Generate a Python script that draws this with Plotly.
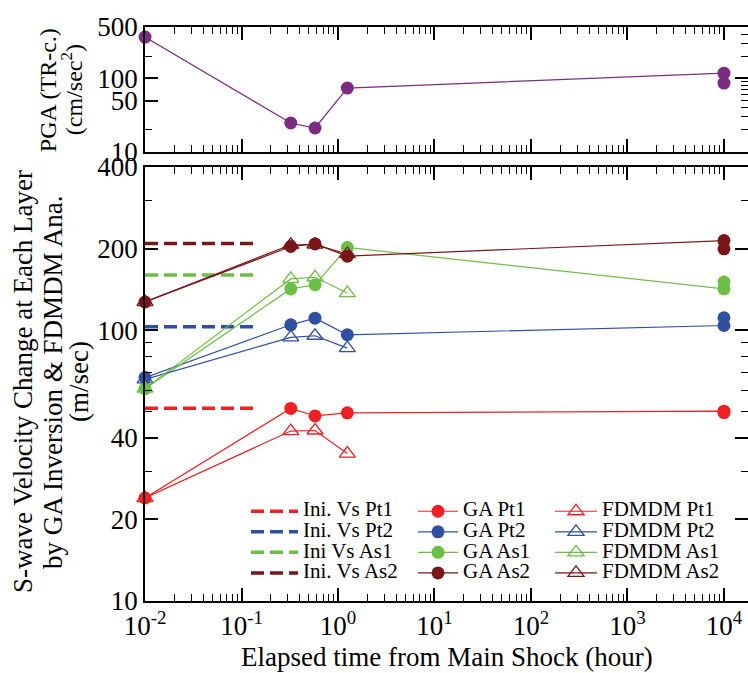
import plotly.graph_objects as go

FONT = "Liberation Serif"
RED, BLUE, GREEN, DRED, PURPLE = "#EE2024", "#2F4FA2", "#6DBE45", "#7A1518", "#7B2C80"

# ---- data ----
t_pga = [0.01, 0.324, 0.578, 1.25, 1.0e4, 1.0e4]
pga = [365, 24.8, 21.2, 74, 118, 86.6]

t_ini = [0.01, 0.152]
ini_labels = ["Ini. Vs Pt1", "Ini. Vs Pt2", "Ini Vs As1", "Ini. Vs As2"]
ini_vs = [51.5, 102.9, 159.8, 208.7]

t_ga = [0.01, 0.324, 0.578, 1.25, 1.0e4, 1.0e4]
ga_labels = ["GA Pt1", "GA Pt2", "GA As1", "GA As2"]
ga_pt1 = [24.0, 51.4, 48.2, 49.5, 50.2, 49.6]
ga_pt2 = [66.8, 104.6, 110.7, 96.1, 104.0, 111.0]
ga_as1 = [60.8, 141.9, 147.0, 201.8, 142.0, 150.4]
ga_as2 = [127.0, 203.5, 208.0, 187.5, 214.0, 199.5]

t_fd = [0.01, 0.324, 0.578, 1.25]
fd_labels = ["FDMDM Pt1", "FDMDM Pt2", "FDMDM As1", "FDMDM As2"]
fd_pt1 = [24.0, 42.4, 42.6, 35.0]
fd_pt2 = [65.8, 94.0, 95.3, 85.8]
fd_as1 = [60.8, 154.5, 156.7, 137.0]
fd_as2 = [127.0, 206.6, 207.0, 191.0]

x_major = [1e-2, 1e-1, 1e0, 1e1, 1e2, 1e3, 1e4]
x_labels = ["10<sup>-2</sup>", "10<sup>-1</sup>", "10<sup>0</sup>", "10<sup>1</sup>",
            "10<sup>2</sup>", "10<sup>3</sup>", "10<sup>4</sup>"]
pga_ticks = [10, 50, 100, 500]
vs_ticks = [10, 20, 40, 100, 200, 400]
vs_minor = [30, 50, 60, 70, 80, 90, 300]

colors = [RED, BLUE, GREEN, DRED]
ga_vals = [ga_pt1, ga_pt2, ga_as1, ga_as2]
fd_vals = [fd_pt1, fd_pt2, fd_as1, fd_as2]

def lbl(s):
    return '<span style="font-size:21px">' + s + '</span>'

fig = go.Figure()

# top panel
fig.add_trace(go.Scatter(x=t_pga, y=pga, mode="lines+markers", xaxis="x", yaxis="y",
                         line=dict(color=PURPLE, width=1.2), marker=dict(size=13, color=PURPLE),
                         showlegend=False, cliponaxis=False))
fig.add_trace(go.Scatter(x=[None], y=[None], xaxis="x", yaxis="y3", showlegend=False, hoverinfo="skip"))
fig.add_trace(go.Scatter(x=[None], y=[None], xaxis="x2", yaxis="y4", showlegend=False, hoverinfo="skip"))

# bottom panel
for name, v, c in zip(ini_labels, ini_vs, colors):
    fig.add_trace(go.Scatter(x=t_ini, y=[v, v], mode="lines", xaxis="x2", yaxis="y2",
                             line=dict(color=c, width=3.5, dash="13px,6px"),
                             name=lbl(name), legend="legend", cliponaxis=False))
for name, v, c in zip(ga_labels, ga_vals, colors):
    fig.add_trace(go.Scatter(x=t_ga, y=v, mode="lines+markers", xaxis="x2", yaxis="y2",
                             line=dict(color=c, width=1.2), marker=dict(size=13, color=c),
                             name=lbl(name), legend="legend2", cliponaxis=False))
for name, v, c in zip(fd_labels, fd_vals, colors):
    fig.add_trace(go.Scatter(x=t_fd, y=v, mode="lines+markers", xaxis="x2", yaxis="y2",
                             line=dict(color=c, width=1.2),
                             marker=dict(size=14, color=c, symbol="triangle-up-open", line=dict(width=1.3, color=c)),
                             name=lbl(name), legend="legend3", cliponaxis=False))

x_minor = [m * 10 ** e for e in range(-2, 5) for m in range(2, 10)]
tickfont = dict(family=FONT, size=27, color="black")
common_x = dict(type="log", range=[-2, 4.249], domain=[0, 1], showline=True, linecolor="black",
                linewidth=1.5, mirror="ticks", ticks="inside", ticklen=13, tickwidth=1.5,
                tickcolor="black", tickvals=x_major, ticktext=x_labels, showgrid=False, zeroline=False,
                tickfont=tickfont,
                minor=dict(tickvals=x_minor, ticks="inside", ticklen=7, tickwidth=1.2, tickcolor="black",
                           showgrid=False))
common_y = dict(type="log", showline=True, linecolor="black", linewidth=1.5, ticks="inside",
                ticklen=13, tickwidth=1.5, tickcolor="black", showgrid=False, zeroline=False,
                tickfont=tickfont)

pga_minor_r = [20, 30, 40, 50, 60, 70, 80, 90, 200, 300, 400]
leg_font = dict(family=FONT, size=13.5, color="black")

fig.update_layout(
    width=748, height=673, margin=dict(l=145, r=0, t=27, b=72),
    paper_bgcolor="white", plot_bgcolor="white",
    font=dict(family=FONT, color="black"),
    xaxis=dict(common_x, anchor="y", showticklabels=False),
    xaxis2=dict(common_x, anchor="y2"),
    yaxis=dict(common_y, domain=[0.7822, 1], anchor="x", range=[1, 2.69897],
               tickvals=pga_ticks, ticktext=[str(v) for v in pga_ticks],
               minor=dict(tickvals=[20, 200], ticks="inside", ticklen=7, tickwidth=1.2, tickcolor="black")),
    yaxis3=dict(type="log", overlaying="y", side="right", anchor="x", range=[1, 2.69897],
                showline=False, ticks="inside", ticklen=13, tickwidth=1.5, tickcolor="black",
                tickvals=[10, 100], showticklabels=False, showgrid=False, zeroline=False,
                minor=dict(tickvals=pga_minor_r, ticks="inside", ticklen=7, tickwidth=1.2, tickcolor="black")),
    yaxis2=dict(common_y, domain=[0, 0.7561], anchor="x2", range=[1, 2.60206],
                tickvals=vs_ticks, ticktext=[str(v) for v in vs_ticks],
                minor=dict(tickvals=vs_minor, ticks="inside", ticklen=7, tickwidth=1.2, tickcolor="black")),
    yaxis4=dict(type="log", overlaying="y2", side="right", anchor="x2", range=[1, 2.60206],
                showline=False, ticks="inside", ticklen=13, tickwidth=1.5, tickcolor="black",
                tickvals=vs_ticks, showticklabels=False, showgrid=False, zeroline=False,
                minor=dict(tickvals=vs_minor, ticks="inside", ticklen=7, tickwidth=1.2, tickcolor="black")),
    legend=dict(x=(246 - 145) / 603, y=0.183, xanchor="left", yanchor="top", itemwidth=47,
                font=leg_font, bgcolor="rgba(0,0,0,0)"),
    legend2=dict(x=(413 - 145) / 603, y=0.183, xanchor="left", yanchor="top", itemwidth=40,
                 font=leg_font, bgcolor="rgba(0,0,0,0)"),
    legend3=dict(x=(550 - 145) / 603, y=0.183, xanchor="left", yanchor="top", itemwidth=42,
                 font=leg_font, bgcolor="rgba(0,0,0,0)"),
    showlegend=True,
)

ann_font = dict(family=FONT, size=27, color="black")
for txt, px in [("S-wave Velocity Change at Each Layer", 23),
                ("by GA Inversion &amp; FDMDM Ana.", 53),
                ("(m/sec)", 79)]:
    fig.add_annotation(text=txt, textangle=-90, xref="paper", yref="paper",
                       x=(px - 145) / 603, y=0.3815, xanchor="center", yanchor="middle",
                       showarrow=False, font=ann_font)
for txt, px in [("PGA (TR-c.)", 48), ("(cm/sec<sup>2</sup>)", 72)]:
    fig.add_annotation(text=txt, textangle=-90, xref="paper", yref="paper",
                       x=(px - 145) / 603, y=0.890, xanchor="center", yanchor="middle",
                       showarrow=False, font=dict(family=FONT, size=24, color="black"))
fig.add_annotation(text="Elapsed time from Main Shock (hour)", xref="paper", yref="paper",
                   x=(447 - 145) / 603, y=(601 - 657) / 574, xanchor="center", yanchor="middle",
                   showarrow=False, font=ann_font)

fig.write_html("out.html")
